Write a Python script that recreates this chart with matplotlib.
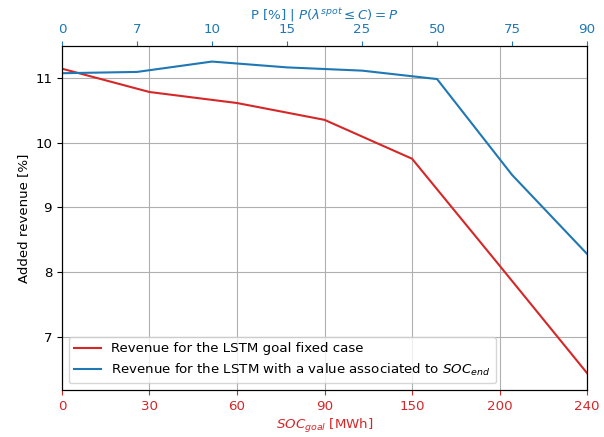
import matplotlib
matplotlib.use('Agg')
import matplotlib.pyplot as plt

plt.rcParams['font.size'] = 9.6

# 数据
soc_goal_labels = ['0', '30', '60', '90', '150', '200', '240']
revenue_goal_fixed = [11.14, 10.78, 10.61, 10.35, 9.75, 8.10, 6.44]

p_labels = ['0', '7', '10', '15', '25', '50', '75', '90']
revenue_soc_end = [11.07, 11.09, 11.25, 11.16, 11.11, 10.98, 9.50, 8.28]

red = '#d62728'
blue = '#1f77b4'

fig, ax = plt.subplots(figsize=(6.04, 4.37), dpi=100)
fig.subplots_adjust(left=0.1026, right=0.972, top=0.8947, bottom=0.1076)

x1 = range(len(soc_goal_labels))
l1, = ax.plot(x1, revenue_goal_fixed, color=red, label='Revenue for the LSTM goal fixed case')
ax.set_xlim(0, len(soc_goal_labels) - 1)
ax.set_xticks(list(x1))
ax.set_xticklabels(soc_goal_labels)
ax.tick_params(axis='x', colors=red)
ax.set_xlabel('$SOC_{goal}$ [MWh]', color=red, labelpad=3)
ax.set_ylabel('Added revenue [%]')
ax.set_ylim(6.18, 11.49)
ax.grid(True)

ax2 = ax.twiny()
x2 = range(len(p_labels))
l2, = ax2.plot(x2, revenue_soc_end, color=blue,
               label='Revenue for the LSTM with a value associated to $SOC_{end}$')
ax2.set_xlim(0, len(p_labels) - 1)
ax2.set_xticks(list(x2))
ax2.set_xticklabels(p_labels)
ax2.tick_params(axis='x', colors=blue)
ax2.set_xlabel(r'P [%] | $P(\lambda^{spot} \leq C) = P$', color=blue, labelpad=3)

ax2.legend(handles=[l1, l2], loc='lower left')

fig.savefig('out.png', dpi=100)
